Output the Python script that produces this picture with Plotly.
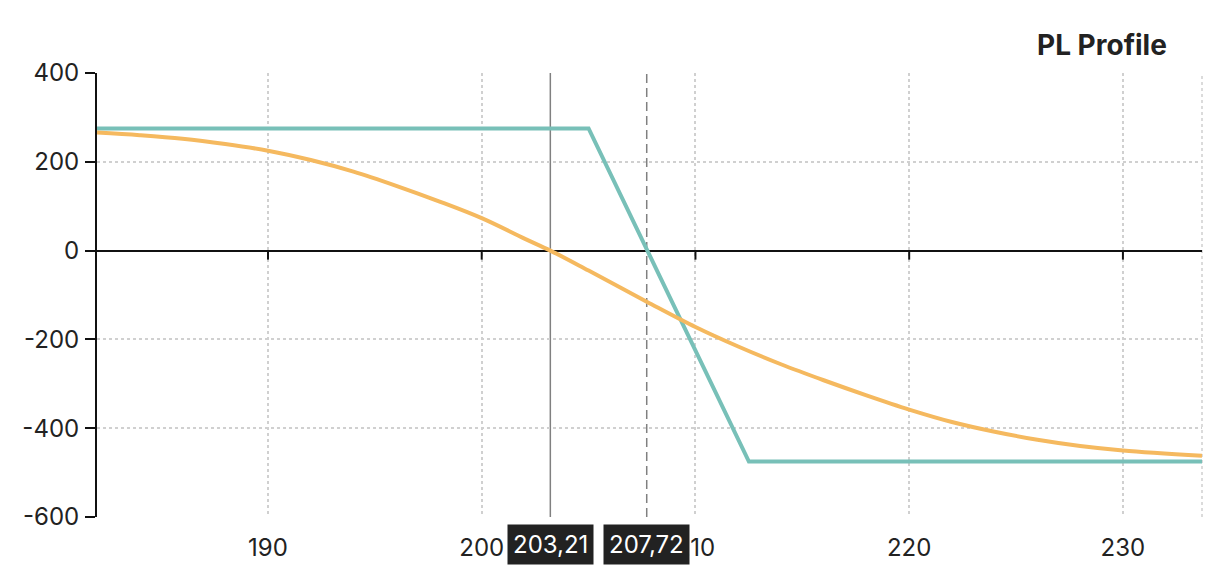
import plotly.graph_objects as go

# ---- data ----
expiry_x = [182.0, 205.0, 212.5, 233.7]
expiry_pl = [275, 275, -475, -475]

today_x = [182, 184, 186, 188, 190, 192, 194, 196, 198, 200, 202, 203.21, 205, 207.72,
           210, 212, 214, 216, 218, 220, 222, 224, 226, 228, 230, 233.7]
today_pl = [266, 260, 252, 240, 225, 204, 178, 146, 111, 73, 27, 0, -45, -115,
            -172, -216, -256, -292, -326, -358, -386, -408, -426, -440, -450, -462]

x_ticks = [190, 200, 210, 220, 230]
y_ticks = [-600, -400, -200, 0, 200, 400]
y_tick_labels = [str(v) for v in y_ticks]
x_range = [182.0, 233.7]
y_range = [-600, 400]

spot_price = 203.21
breakeven = 207.72
title_text = "PL Profile"

FONT = "Inter, Roboto, 'Noto Sans', sans-serif"
TEAL = "#78c0b8"
ORANGE = "#f5b95f"

fig = go.Figure()
fig.add_trace(go.Scatter(x=expiry_x, y=expiry_pl, mode="lines",
                         line=dict(color=TEAL, width=4), hoverinfo="skip", showlegend=False))
fig.add_trace(go.Scatter(x=today_x, y=today_pl, mode="lines",
                         line=dict(color=ORANGE, width=4, shape="spline", smoothing=1),
                         hoverinfo="skip", showlegend=False))

shapes = []
shapes.append(dict(type="line", xref="x", yref="paper", x0=spot_price, x1=spot_price, y0=0, y1=1,
                   line=dict(color="#808080", width=1.5), layer="below"))
shapes.append(dict(type="line", xref="x", yref="paper", x0=breakeven, x1=breakeven, y0=0, y1=1,
                   line=dict(color="#808080", width=1.5, dash="9px,5px"), layer="below"))
shapes.append(dict(type="line", xref="paper", yref="paper", x0=1, x1=1, y0=0, y1=1,
                   line=dict(color="#d0d0d0", width=1.5, dash="dot"), layer="below"))
for t in x_ticks:
    shapes.append(dict(type="line", xref="x", yref="y", xsizemode="scaled", ysizemode="pixel",
                       yanchor=0, x0=t, x1=t, y0=0, y1=-9,
                       line=dict(color="#111111", width=2)))

def fmt(v):
    return f"{v:.2f}".replace(".", ",")

annotations = [
    dict(text=f"<b>{title_text}</b>", xref="paper", yref="paper", x=0.97, y=1.063,
         xanchor="right", yanchor="middle", showarrow=False,
         font=dict(family=FONT, size=28, color="#222222")),
]
for v in (spot_price, breakeven):
    annotations.append(dict(text=fmt(v), xref="x", yref="paper", x=v, y=-0.061,
                            xanchor="center", yanchor="middle", showarrow=False,
                            bgcolor="#222222", borderpad=5,
                            font=dict(family=FONT, size=24, color="white")))

fig.update_layout(
    width=1222, height=584,
    margin=dict(l=89, r=28, t=65, b=75),
    paper_bgcolor="white", plot_bgcolor="white",
    font=dict(family=FONT, size=24, color="#222222"),
    shapes=shapes, annotations=annotations,
    xaxis=dict(range=x_range, tickvals=x_ticks, showgrid=True, gridcolor="#d0d0d0",
               griddash="dot", gridwidth=1.5, zeroline=False, showline=False,
               ticks="outside", ticklen=9, tickcolor="rgba(0,0,0,0)",
               tickfont=dict(family=FONT, size=24, color="#222222")),
    yaxis=dict(range=y_range, tickvals=y_ticks, ticktext=y_tick_labels, showgrid=True,
               gridcolor="#d0d0d0", griddash="dot", gridwidth=1.5, zeroline=True,
               zerolinecolor="#111111", zerolinewidth=2, showline=True, linecolor="#111111",
               linewidth=2, ticks="outside", ticklen=10, tickwidth=2, tickcolor="#111111",
               ticklabelstandoff=1,
               tickfont=dict(family=FONT, size=24, color="#222222")),
)

fig.write_html("out.html")
